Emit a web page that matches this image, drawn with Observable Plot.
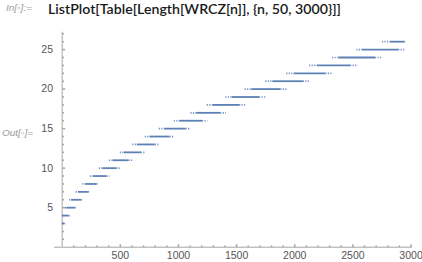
<!DOCTYPE html>
<html>
<head>
<meta charset="utf-8">
<script src="https://cdn.jsdelivr.net/npm/d3@7"></script>
<script src="https://cdn.jsdelivr.net/npm/@observablehq/plot@0.6"></script>
<style>
  html, body { margin: 0; padding: 0; background: #fff; width: 422px; height: 262px; overflow: hidden; }
  #chart { position: absolute; left: 0; top: 0; }
  .lbl { position: absolute; white-space: nowrap; transform-origin: 0 50%; }
  #inlbl { left: 5.7px; top: 3px; font: italic 9px "Liberation Sans", Arial, sans-serif; color: #9a9a9a; line-height: 11px; }
  #code { left: 47.7px; top: 1px; font: 600 13.5px Lato, "Liberation Sans", sans-serif; color: #1a1a1a; line-height: 16px; }
  #outlbl { left: 1.7px; top: 127px; font: italic 9.5px "Liberation Sans", Arial, sans-serif; color: #9a9a9a; line-height: 12px; }
</style>
</head>
<body>
<div id="chart"></div>
<div class="lbl" id="inlbl">In[◦]:=</div>
<div class="lbl" id="code">ListPlot[Table[Length[WRCZ[n]], {n, 50, 3000}]]</div>
<div class="lbl" id="outlbl">Out[◦]=</div>
<script>
// Step levels of Length[WRCZ[n]] (index = n - 49)
const levels    = [3, 4, 5, 6, 7, 8, 9, 10, 11, 12, 13, 14, 15, 16, 17, 18, 19, 20, 21, 22, 23, 24, 25, 26];
// first and last index where the level occurs (sparse tails included)
const spanFrom  = [1, 1, 28, 63, 120, 178, 243, 320, 406, 500, 607, 715, 835, 964, 1107, 1247, 1407, 1573, 1750, 1931, 2128, 2325, 2534, 2754];
const spanTo    = [30, 69, 126, 183, 246, 320, 412, 500, 607, 715, 838, 967, 1109, 1253, 1413, 1579, 1753, 1937, 2134, 2331, 2542, 2760, 2951, 2951];
// dense middle part of each level
const solidFrom = [1, 5, 40, 80, 140, 200, 270, 350, 438, 535, 645, 755, 880, 1010, 1156, 1300, 1462, 1631, 1811, 1995, 2194, 2380, 2580, 2823];
const solidTo   = [22, 60, 112, 165, 226, 298, 385, 470, 575, 680, 800, 927, 1065, 1207, 1364, 1526, 1698, 1879, 2073, 2267, 2480, 2694, 2894, 2951];

const xMajor = [500, 1000, 1500, 2000, 2500, 3000];
const xMinor = d3.range(100, 3001, 100).filter(v => v % 500 !== 0);
const yMajor = [5, 10, 15, 20, 25];
const yMinor = d3.range(1, 28, 1).filter(v => v % 5 !== 0);

const rows = levels.map((L, i) => ({level: L, from: spanFrom[i], to: spanTo[i], a: solidFrom[i], b: solidTo[i]}));

const blue = "rgb(94,129,181)";
const axisGray = "#a6a6a6";
const tickUp = {draw(c, s) { const l = Math.sqrt(s / Math.PI); c.moveTo(0, 0); c.lineTo(0, -l); }};
const tickRight = {draw(c, s) { const l = Math.sqrt(s / Math.PI); c.moveTo(0, 0); c.lineTo(l, 0); }};
const font = "'Liberation Sans', Arial, sans-serif";

const chart = Plot.plot({
  width: 422,
  height: 262,
  marginLeft: 54,
  marginRight: 10.3,
  marginTop: 31.7,
  marginBottom: 15.3,
  style: {background: "transparent", fontFamily: font, fontSize: "10.5px", color: "#555"},
  x: {domain: [-66, 3010]},
  y: {domain: [0, 27.2]},
  marks: [
    Plot.ruleY([0], {stroke: axisGray, strokeWidth: 1}),
    Plot.ruleX([0], {stroke: axisGray, strokeWidth: 1}),
    Plot.dot(xMinor, {x: d => d, y: 0, symbol: tickUp, r: 1.8, stroke: axisGray, fill: "none"}),
    Plot.dot(xMajor, {x: d => d, y: 0, symbol: tickUp, r: 3, stroke: axisGray, fill: "none"}),
    Plot.dot(yMinor, {x: 0, y: d => d, symbol: tickRight, r: 1.8, stroke: axisGray, fill: "none"}),
    Plot.dot(yMajor, {x: 0, y: d => d, symbol: tickRight, r: 3, stroke: axisGray, fill: "none"}),
    Plot.axisX({ticks: xMajor, tickSize: 0, tickPadding: 4, fill: "#555", fontSize: 10.5, label: null, tickFormat: d => String(d)}),
    Plot.axisY({ticks: yMajor, tickSize: 0, tickPadding: 1.5, fill: "#555", fontSize: 10.5, label: null}),
    // sparse tails
    Plot.ruleY(rows, {y: "level", x1: "from", x2: "a", stroke: blue, strokeWidth: 1.7, strokeDasharray: "1.2,1.3", strokeOpacity: 0.85}),
    Plot.ruleY(rows, {y: "level", x1: "b", x2: "to", stroke: blue, strokeWidth: 1.7, strokeDasharray: "1.2,1.3", strokeOpacity: 0.85}),
    // dense part
    Plot.ruleY(rows, {y: "level", x1: "a", x2: "b", stroke: blue, strokeWidth: 1.8})
  ]
});
document.getElementById("chart").appendChild(chart);

function fitWidth(id, w) {
  const el = document.getElementById(id);
  const actual = el.getBoundingClientRect().width;
  if (actual > 0) el.style.transform = `scaleX(${w / actual})`;
}
fitWidth("code", 293);
fitWidth("inlbl", 26);
fitWidth("outlbl", 31);
</script>
</body>
</html>
